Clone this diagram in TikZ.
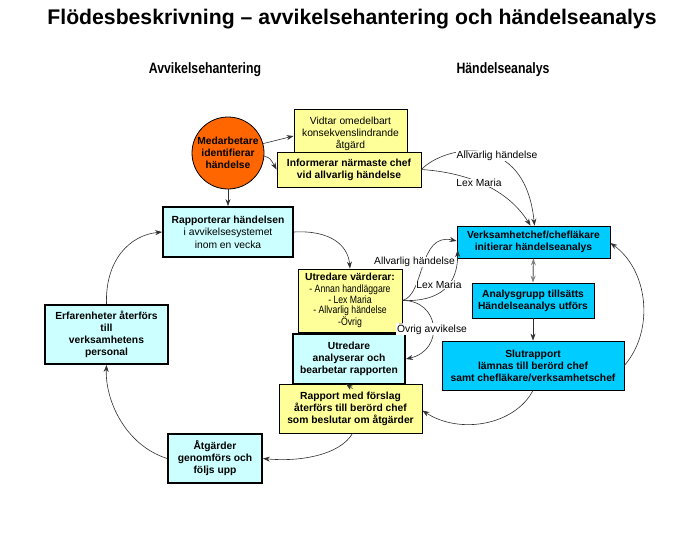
\documentclass[tikz,border=0pt]{standalone}
\usepackage{fontspec}
\setmainfont{Liberation Sans}
\newfontfamily\narrowfont[FakeStretch=0.82]{Liberation Sans}
\definecolor{orangefill}{HTML}{FF6600}
\definecolor{yellowfill}{HTML}{FFFF99}
\definecolor{paleblue}{HTML}{CCFFFF}
\definecolor{brightblue}{HTML}{00CCFF}
\definecolor{linegray}{HTML}{303030}
\usetikzlibrary{arrows.meta,calc}

\begin{document}
\begin{tikzpicture}[x=1pt,y=-1pt,
    yb/.style={draw=black,line width=0.8pt,fill=yellowfill,align=center,inner sep=1pt,
      font=\fontsize{10.3}{12}\selectfont\bfseries},
    pb/.style={draw=black,line width=1.8pt,fill=paleblue,align=center,inner sep=1pt,
      font=\fontsize{10.3}{12}\selectfont\bfseries},
    bb/.style={draw=black,line width=0.8pt,fill=brightblue,align=center,inner sep=1pt,
      font=\fontsize{10.3}{12}\selectfont\bfseries},
    lb/.style={fill=white,inner sep=0.6pt,font=\fontsize{10.3}{11}\selectfont},
    ar/.style={-{Stealth[length=7pt,width=5pt]},linegray,line width=0.6pt},
  ]
    \useasboundingbox (0,0) rectangle (700,535);
    % titles
    \node (title) at (352,19)
      {\fontsize{21.2}{25}\selectfont\bfseries Flödesbeskrivning – avvikelsehantering och händelseanalys};
    \node (hleft) at (205,70) {\narrowfont\fontsize{15}{17}\selectfont\bfseries Avvikelsehantering};
    \node (hright) at (503,70) {\narrowfont\fontsize{15}{17}\selectfont\bfseries Händelseanalys};
    % left column
    \node[draw=black,line width=0.8pt,fill=orangefill,circle,minimum size=72pt,inner sep=0pt,
      align=center,font=\fontsize{10.3}{12}\selectfont\bfseries](circ) at (228,153)
      {Medarbetare\\identifierar\\händelse};
    \node[yb,font=\fontsize{10.3}{11.8}\selectfont,minimum width=113pt,minimum height=50pt](vid) at (350.5,134)
      {Vidtar omedelbart\\konsekvenslindrande\\åtgärd};
    \node[yb,minimum width=144pt,minimum height=35pt](inf) at (349,169.5)
      {Informerar närmaste chef\\vid allvarlig händelse};
    \node[pb,font=\fontsize{10.3}{12.4}\selectfont,minimum width=130pt,minimum height=50pt](rap) at (228,232)
      {\textbf{Rapporterar händelsen}\\i avvikelsesystemet\\inom en vecka};
    \node[yb,font=\narrowfont\fontsize{10.6}{10.4}\selectfont,minimum width=104pt,minimum height=63pt](utv) at (350,300.5)
      {{\normalfont\fontsize{10.3}{12}\selectfont\bfseries Utredare värderar:}\\[1.5pt]- Annan handläggare\\- Lex Maria\\- Allvarlig händelse\\-Övrig};
    \node[pb,minimum width=112pt,minimum height=50pt](uan) at (349,359)
      {Utredare\\analyserar och\\bearbetar rapporten};
    \node[yb,minimum width=143pt,minimum height=49pt](rmf) at (350.5,408.5)
      {Rapport med förslag\\återförs till berörd chef\\som beslutar om åtgärder};
    \node[pb,minimum width=94pt,minimum height=49pt](atg) at (215,458.5)
      {Åtgärder\\genomförs och\\följs upp};
    \node[pb,minimum width=123pt,minimum height=59pt](erf) at (106.5,334.5)
      {Erfarenheter återförs\\till\\verksamhetens\\personal};
    % right column
    \node[bb,minimum width=153pt,minimum height=32pt](vch) at (533.5,242)
      {Verksamhetchef/chefläkare\\initierar händelseanalys};
    \node[bb,minimum width=122pt,minimum height=35pt](ana) at (533,300.5)
      {Analysgrupp tillsätts\\Händelseanalys utförs};
    \node[bb,minimum width=182pt,minimum height=49pt](slu) at (533,365.5)
      {Slutrapport\\lämnas till berörd chef\\samt chefläkare/verksamhetschef};
    % connectors
    \draw[ar](circ.15)--([yshift=-2pt]vid.west);
    \draw[ar](circ.355) .. controls (270,158) .. (inf.west);
    \draw[ar](circ.south)--(rap.north);
    \draw[ar](inf.east) .. controls (445,145) and (525,130) .. ([xshift=1pt]vch.north);
    \draw[ar](inf.east) .. controls (460,172) and (505,185) .. ([xshift=-3pt]vch.north);
    \draw[ar](rap.east) .. controls (330,230) and (348,245) .. (utv.north);
    \draw[ar](utv.east) .. controls (425,295) and (418,232) .. ([yshift=1pt]vch.west);
    \draw[ar](utv.east) .. controls (440,302) and (458,285) .. ([xshift=1pt,yshift=-8pt]vch.west);
    \draw[ar](utv.east) .. controls (440,300) and (445,350) .. (uan.east);
    \draw[{Stealth[length=7pt,width=5pt]}-{Stealth[length=7pt,width=5pt]},gray,line width=1.2pt](vch.south)--(ana.north);
    \draw[ar](ana.south)--(slu.north);
    \draw[ar](slu.east) .. controls (655,330) and (648,270) .. ([yshift=-1pt]vch.east);
    \draw[ar](slu.south) .. controls (515,425) and (460,435) .. ([yshift=-2pt]rmf.east);
    \draw[ar]([xshift=2pt,yshift=-5pt]rmf.north)--([xshift=-3pt,yshift=1pt]uan.south);
    \draw[ar]([xshift=2pt]rmf.south) .. controls (340,455) and (300,462) .. (atg.east);
    \draw[ar](atg.west) .. controls (125,445) and (105,400) .. (erf.south);
    \draw[ar](erf.north) .. controls (105,260) and (130,235) .. (rap.west);
    % labels on the connectors
    \node[lb](lallv1) at (497,156) {Allvarlig händelse};
    \node[lb](llex1) at (479,183) {Lex Maria};
    \node[lb](lallv2) at (414.5,262) {Allvarlig händelse};
    \node[lb](llex2) at (439,285) {Lex Maria};
    \node[lb](lovr) at (432,329) {Övrig avvikelse};
  \end{tikzpicture}
\end{document}
